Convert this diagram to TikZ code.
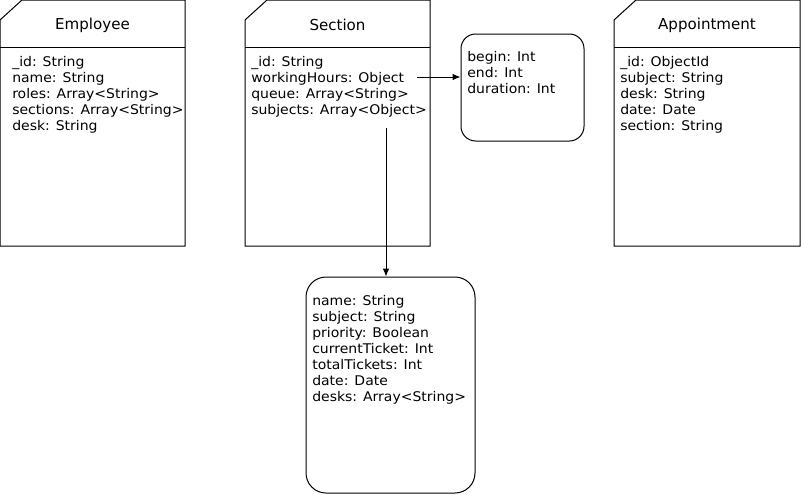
\documentclass[tikz,border=0pt]{standalone}
\usepackage{fontspec}
\setmainfont{DejaVu Sans}
\newfontfamily\bodyfont[FakeStretch=1.05]{DejaVu Sans}
\usetikzlibrary{arrows.meta}
\begin{document}
\begin{tikzpicture}[x=0.75pt,y=-0.75pt,
  outline/.style={draw=black,line width=0.75pt},
  titletext/.style={font=\fontsize{11.3}{13}\selectfont,anchor=center},
  bodytext/.style={font=\bodyfont\fontsize{10}{12}\selectfont,anchor=north west,align=left,inner sep=0pt},
  roundbox/.style={draw=black,line width=0.75pt,inner sep=0pt},
  conn/.style={draw=black,line width=0.75pt,-{Latex[length=6pt,width=5pt]}}]
\useasboundingbox (0,0) rectangle (801,494);
% Employee
\draw[outline] (0,20) -- (22,0) -- (185,0) -- (185,246) -- (0,246) -- cycle;
\draw[outline] (0,47) -- (185,47);
\node[titletext] (empT) at (92.5,25) {Employee};
\node[bodytext] (empB) at (12,56) {\_id: String\\name: String\\roles: Array<String>\\sections: Array<String>\\desk: String};
% Section
\draw[outline] (245,20) -- (267,0) -- (430,0) -- (430,246) -- (245,246) -- cycle;
\draw[outline] (245,47) -- (430,47);
\node[titletext] (secT) at (337.5,25) {Section};
\node[bodytext] (secB) at (251,56) {\_id: String\\workingHours: Object\\queue: Array<String>\\subjects: Array<Object>};
% Appointment
\draw[outline] (614,20) -- (636,0) -- (800,0) -- (800,246) -- (614,246) -- cycle;
\draw[outline] (614,47) -- (800,47);
\node[titletext] (appT) at (707,25) {Appointment};
\node[bodytext] (appB) at (620,56) {\_id: ObjectId\\subject: String\\desk: String\\date: Date\\section: String};
% working hours box
\node[roundbox,rounded corners=11pt,minimum width=92.25pt,minimum height=80.25pt] (wh) at (522.5,87.5) {};
\node[bodytext] (whB) at (467,51) {begin: Int\\end: Int\\duration: Int};
% subjects box
\node[roundbox,rounded corners=15pt,minimum width=126.75pt,minimum height=162pt] (sub) at (390.5,385) {};
\node[bodytext] (subB) at (312,295) {name: String\\subject: String\\priority: Boolean\\currentTicket: Int\\totalTickets: Int\\date: Date\\desks: Array<String>};
\coordinate (whS) at (417,77);
\coordinate (subS) at (386,128);
\draw[conn] (whS) -- (whS -| wh.west);
\draw[conn] (subS) -- (subS |- sub.north);
\end{tikzpicture}
\end{document}
